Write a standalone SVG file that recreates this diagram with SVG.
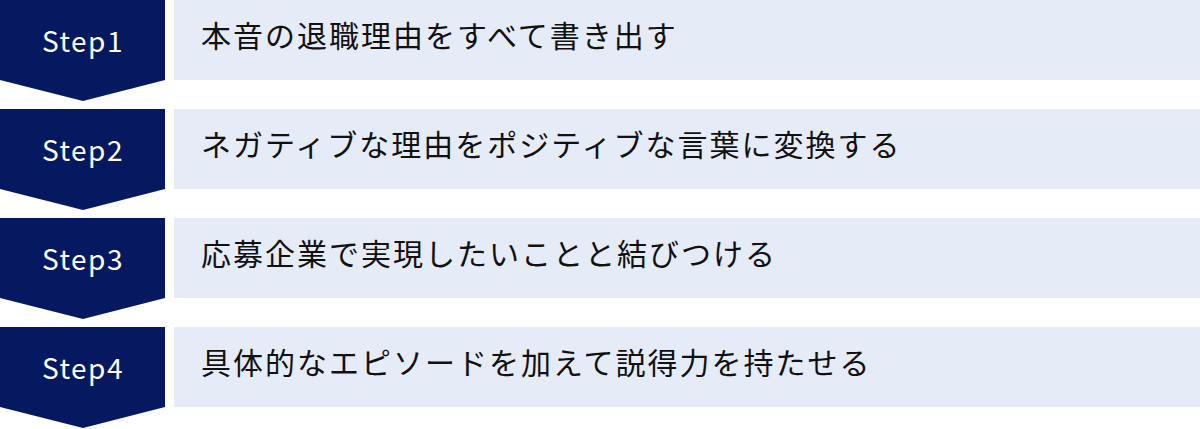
<svg xmlns="http://www.w3.org/2000/svg" width="1200" height="429" viewBox="0 0 1200 429">
  <defs>
    <style>
      .badge { fill: #06185F; }
      .band { fill: #E6EBF8; }
      .step { font-family: "Noto Sans CJK JP", "Noto Sans", sans-serif; font-size: 28px; fill: #FFFFFF; text-anchor: middle; letter-spacing: 1.5px; }
      .label { font-family: "Noto Sans CJK JP", "Noto Sans", sans-serif; font-size: 30px; fill: #111111; letter-spacing: 2px; }
    </style>
  </defs>
  <g id="connectors"></g>
  <g id="step1">
    <polygon class="badge" points="0,0 165,0 165,80 83,101 0,80"/>
    <rect class="band" x="174" y="0" width="1026" height="80"/>
    <text class="step" x="83" y="52">Step1</text>
    <text class="label" x="201" y="47">本音の退職理由をすべて書き出す</text>
  </g>
  <g id="step2">
    <polygon class="badge" points="0,109 165,109 165,189 83,210 0,189"/>
    <rect class="band" x="174" y="109" width="1026" height="80"/>
    <text class="step" x="83" y="161">Step2</text>
    <text class="label" x="201" y="156">ネガティブな理由をポジティブな言葉に変換する</text>
  </g>
  <g id="step3">
    <polygon class="badge" points="0,218 165,218 165,298 83,319 0,298"/>
    <rect class="band" x="174" y="218" width="1026" height="80"/>
    <text class="step" x="83" y="270">Step3</text>
    <text class="label" x="201" y="265">応募企業で実現したいことと結びつける</text>
  </g>
  <g id="step4">
    <polygon class="badge" points="0,327 165,327 165,407 83,428 0,407"/>
    <rect class="band" x="174" y="327" width="1026" height="80"/>
    <text class="step" x="83" y="379">Step4</text>
    <text class="label" x="201" y="374">具体的なエピソードを加えて説得力を持たせる</text>
  </g>
</svg>
